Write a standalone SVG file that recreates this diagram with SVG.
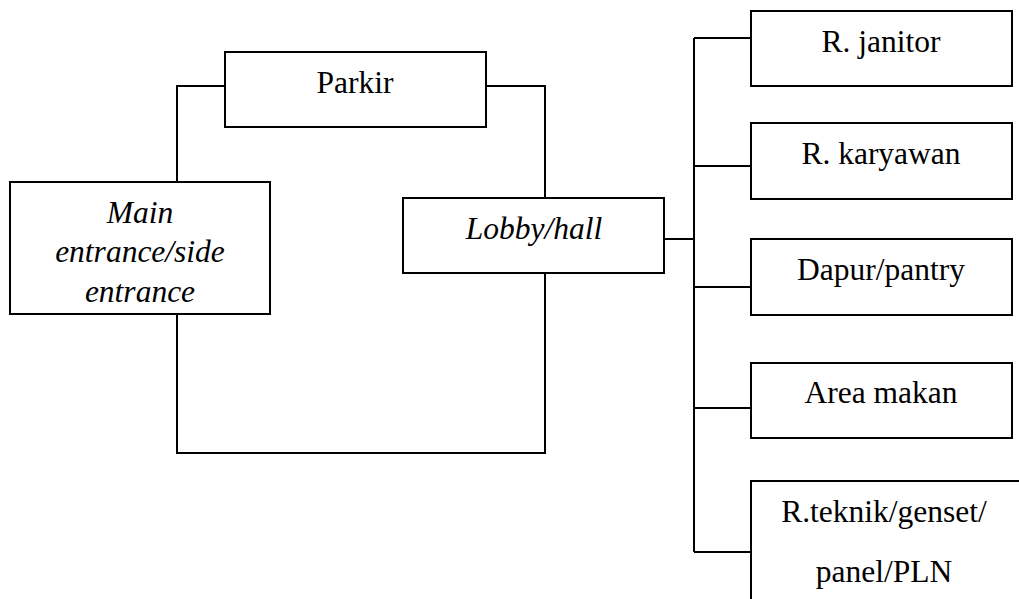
<svg xmlns="http://www.w3.org/2000/svg" width="1019" height="599" viewBox="0 0 1019 599">
  <style>
    .box { fill: #ffffff; stroke: #000000; stroke-width: 2; }
    .wire { fill: none; stroke: #000000; stroke-width: 2; }
    .lbl { font-family: "Liberation Serif", "Times New Roman", serif; font-size: 31.5px; fill: #000000; text-anchor: middle; }
    .it { font-style: italic; }
  </style>
  <rect width="1019" height="599" fill="#ffffff"/>

  <!-- connectors -->
  <g id="connectors">
    <!-- main entrance to parking -->
    <polyline class="wire" points="177,182 177,86 225,86"/>
    <!-- parking to lobby -->
    <polyline class="wire" points="486,86 545,86 545,198"/>
    <!-- lobby back to main entrance -->
    <polyline class="wire" points="545,273 545,453 177,453 177,314"/>
    <!-- lobby to service bus -->
    <line class="wire" x1="664" y1="239" x2="694" y2="239"/>
    <line class="wire" x1="694" y1="38" x2="694" y2="552"/>
    <line class="wire" x1="694" y1="38" x2="751" y2="38"/>
    <line class="wire" x1="694" y1="166" x2="751" y2="166"/>
    <line class="wire" x1="694" y1="287" x2="751" y2="287"/>
    <line class="wire" x1="694" y1="408" x2="751" y2="408"/>
    <line class="wire" x1="694" y1="552" x2="751" y2="552"/>
  </g>

  <g id="parkir">
    <rect class="box" x="225" y="52" width="261" height="75"/>
    <text class="lbl" x="355" y="93">Parkir</text>
  </g>

  <g id="main-entrance">
    <rect class="box" x="10" y="182" width="260" height="132"/>
    <text class="lbl it" x="140" y="223">Main</text>
    <text class="lbl it" x="140" y="262">entrance/side</text>
    <text class="lbl it" x="140" y="301.5">entrance</text>
  </g>

  <g id="lobby">
    <rect class="box" x="403" y="198" width="261" height="75"/>
    <text class="lbl it" x="534" y="239">Lobby/hall</text>
  </g>

  <g id="r-janitor">
    <rect class="box" x="751" y="11" width="261" height="75"/>
    <text class="lbl" x="881" y="52">R. janitor</text>
  </g>

  <g id="r-karyawan">
    <rect class="box" x="751" y="123" width="261" height="76"/>
    <text class="lbl" x="881" y="164">R. karyawan</text>
  </g>

  <g id="dapur-pantry">
    <rect class="box" x="751" y="239" width="261" height="76"/>
    <text class="lbl" x="881" y="280">Dapur/pantry</text>
  </g>

  <g id="area-makan">
    <rect class="box" x="751" y="363" width="261" height="75"/>
    <text class="lbl" x="881" y="403">Area makan</text>
  </g>

  <g id="r-teknik">
    <rect class="box" x="751" y="481" width="300" height="140"/>
    <text class="lbl" x="884" y="521.5">R.teknik/genset/</text>
    <text class="lbl" x="884" y="582">panel/PLN</text>
  </g>
</svg>
